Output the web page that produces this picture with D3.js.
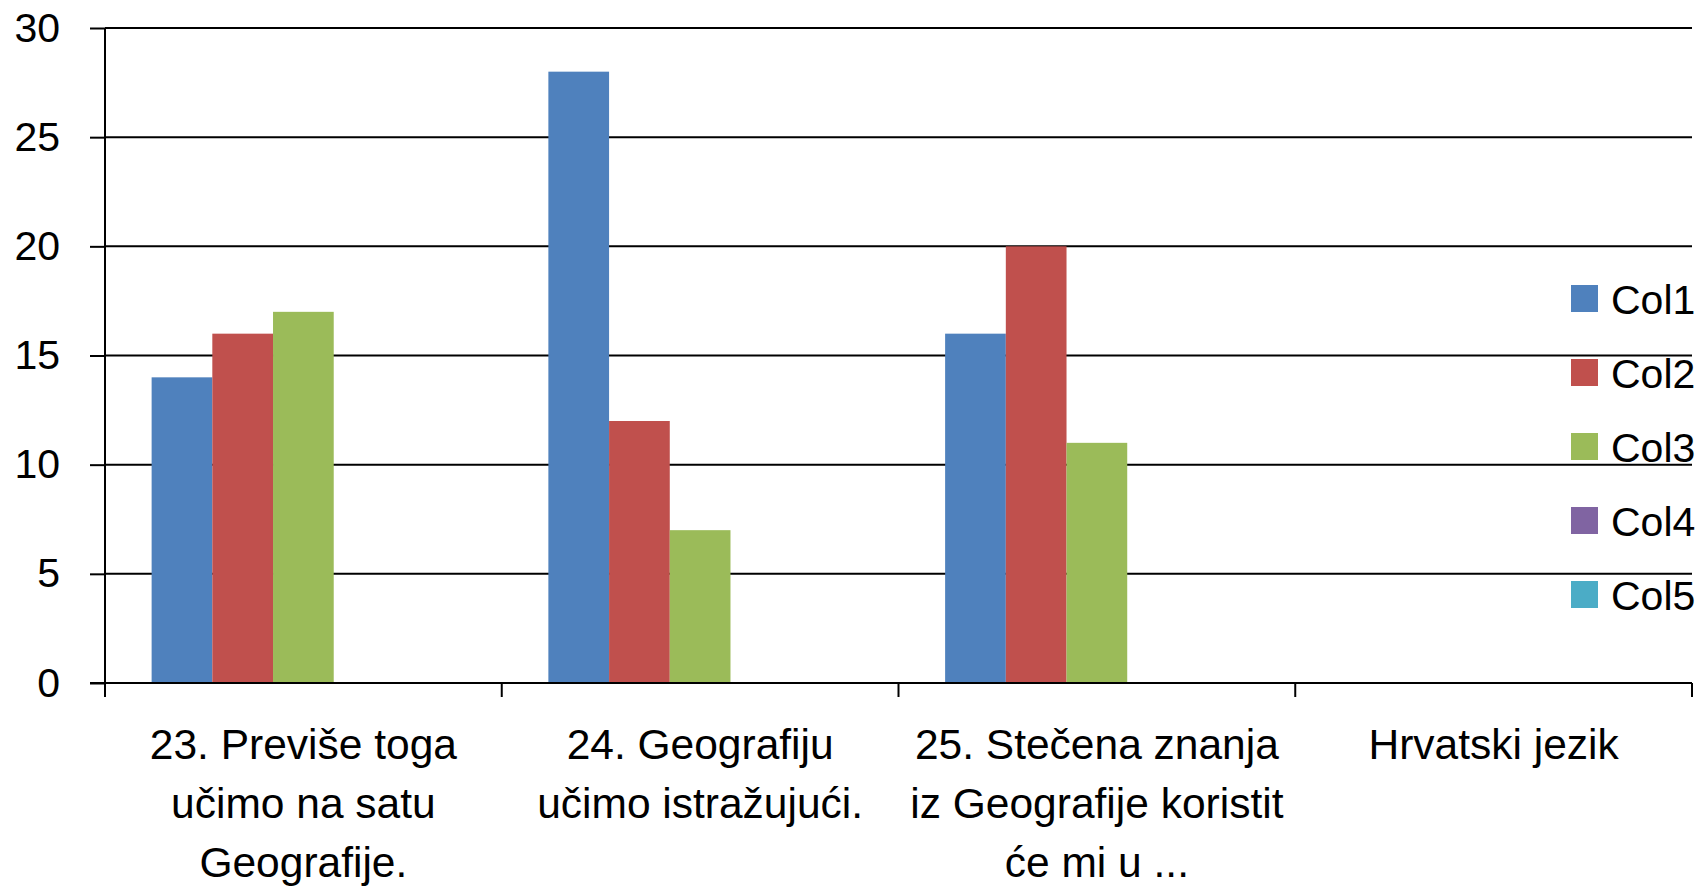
<!DOCTYPE html>
<html>
<head>
<meta charset="utf-8">
<script src="https://cdn.jsdelivr.net/npm/d3@7/dist/d3.min.js"></script>
<style>
  html, body { margin: 0; padding: 0; background: #ffffff; }
  svg { display: block; }
  text { font-family: "Liberation Sans", Arial, sans-serif; fill: #000; }
</style>
</head>
<body>
<svg id="chart" width="1700" height="887"></svg>
<script>
// ---- data ----
const categories = [
  "23. Previše toga učimo na satu Geografije.",
  "24. Geografiju učimo istražujući.",
  "25. Stečena znanja iz Geografije koristit će mi u ...",
  "Hrvatski jezik"
];
const categoryLines = [
  ["23. Previše toga", "učimo na satu", "Geografije."],
  ["24. Geografiju", "učimo istražujući."],
  ["25. Stečena znanja", "iz Geografije koristit", "će mi u ..."],
  ["Hrvatski jezik"]
];
const seriesNames = ["Col1", "Col2", "Col3", "Col4", "Col5"];
const col1 = [14, 28, 16, null];
const col2 = [16, 12, 20, null];
const col3 = [17, 7, 11, null];
const col4 = [null, null, null, null];
const col5 = [null, null, null, null];
const seriesValues = [col1, col2, col3, col4, col5];
const seriesColors = ["#4F81BD", "#C0504D", "#9BBB59", "#8064A2", "#4BACC6"];
const yTicks = [0, 5, 10, 15, 20, 25, 30];

// ---- layout ----
const svg = d3.select("#chart");
const plotLeft = 105, plotRight = 1692, plotTop = 28, plotBottom = 683;
const fontSize = 41;
const catFontSize = 42.5;

const x0 = d3.scaleBand().domain(categories).range([plotLeft, plotRight]).paddingInner(0).paddingOuter(0);
const x1 = d3.scaleBand().domain(seriesNames).range([0, x0.bandwidth()]).paddingInner(0).paddingOuter(0.768);
const y = d3.scaleLinear().domain([0, 30]).range([plotBottom, plotTop]);

// gridlines
svg.append("g").selectAll("line").data(yTicks.filter(d => d !== 0)).join("line")
  .attr("x1", plotLeft).attr("x2", plotRight)
  .attr("y1", d => y(d)).attr("y2", d => y(d))
  .attr("stroke", "#000").attr("stroke-width", 2);

// bars
const rows = [];
categories.forEach((c, i) => {
  seriesNames.forEach((s, j) => {
    const v = seriesValues[j][i];
    if (v != null) rows.push({ c, s, v, color: seriesColors[j] });
  });
});
svg.append("g").selectAll("rect").data(rows).join("rect")
  .attr("x", d => x0(d.c) + x1(d.s))
  .attr("width", x1.bandwidth())
  .attr("y", d => y(d.v))
  .attr("height", d => y(0) - y(d.v))
  .attr("fill", d => d.color);

// y axis
const yAxis = d3.axisLeft(y).tickValues(yTicks).tickSizeInner(15).tickSizeOuter(0).tickPadding(30);
const gy = svg.append("g").attr("transform", `translate(${plotLeft},0)`).call(yAxis);
gy.select(".domain").remove();
gy.selectAll(".tick line").attr("stroke", "#000").attr("stroke-width", 2);
gy.selectAll(".tick text").style("font-size", fontSize + "px")
  .style("font-family", '"Liberation Sans", Arial, sans-serif').attr("fill", "#000");
svg.append("line").attr("x1", plotLeft).attr("x2", plotLeft).attr("y1", plotTop).attr("y2", plotBottom + 14)
  .attr("stroke", "#000").attr("stroke-width", 2);

// x axis
svg.append("line").attr("x1", plotLeft - 15).attr("x2", plotRight).attr("y1", plotBottom).attr("y2", plotBottom)
  .attr("stroke", "#000").attr("stroke-width", 2);
const boundaries = categories.map(c => x0(c)).concat([x0(categories[categories.length - 1]) + x0.bandwidth()]);
svg.append("g").selectAll("line").data(boundaries).join("line")
  .attr("x1", d => d).attr("x2", d => d).attr("y1", plotBottom).attr("y2", plotBottom + 14)
  .attr("stroke", "#000").attr("stroke-width", 2);

// category labels
const lab = svg.append("g").selectAll("text").data(categories).join("text")
  .attr("text-anchor", "middle")
  .style("font-size", catFontSize + "px");
lab.each(function (c, i) {
  const t = d3.select(this);
  categoryLines[i].forEach((line, k) => {
    t.append("tspan").attr("x", x0(c) + x0.bandwidth() / 2).attr("y", 759 + k * 59).text(line);
  });
});

// legend
const lg = svg.append("g").selectAll("g").data(seriesNames).join("g")
  .attr("transform", (d, i) => `translate(1571,${285 + i * 74})`);
lg.append("rect").attr("width", 27).attr("height", 27).attr("fill", (d, i) => seriesColors[i]);
lg.append("text").attr("x", 40).attr("y", 29).style("font-size", fontSize + "px").text(d => d);
</script>
</body>
</html>
